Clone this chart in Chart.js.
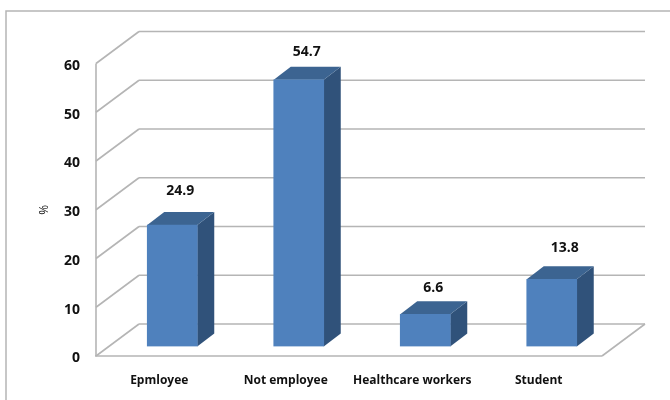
<!DOCTYPE html>
<html>
<head>
<meta charset="utf-8">
<style>
  html, body { margin: 0; padding: 0; background: #fff; overflow: hidden; }
  canvas { display: block; }
</style>
<script src="https://cdn.jsdelivr.net/npm/chart.js@4/dist/chart.umd.min.js"></script>
</head>
<body>
<canvas id="chart1" width="670" height="400"></canvas>
<script>
const categorias = ["Epmloyee", "Not employee", "Healthcare workers", "Student"];
const valores = [24.9, 54.7, 6.6, 13.8];
const ticksY = [0, 10, 20, 30, 40, 50, 60];

// Small nudges of the value labels, in pixels
const ajusteRotuloX = [0, 0, 0, 5];
const ajusteRotuloY = [-4, 2, 4, -1];

// Depth of the 3D box: floor/walls and bars
const PAREDE = { dx: 43, dy: -32 };
const BARRA = { dx: 17, dy: -13, frenteX: 13, frenteY: -9.5 };
const COR_LINHA = "#b5b5b5";
const COR_LATERAL = "#30527a";
const COR_TOPO = "#3c6491";
const COR_TEXTO = "#111";
const FONTE = "'Open Sans', sans-serif";

function linha(ctx, x1, y1, x2, y2) {
  ctx.beginPath();
  ctx.moveTo(x1, y1);
  ctx.lineTo(x2, y2);
  ctx.stroke();
}

function face(ctx, cor, pontos) {
  ctx.fillStyle = cor;
  ctx.beginPath();
  pontos.forEach((p, i) => (i ? ctx.lineTo(p[0], p[1]) : ctx.moveTo(p[0], p[1])));
  ctx.closePath();
  ctx.fill();
}

// Y labels sit a little below their tick position
const rotulosY = {
  id: "rotulosY",
  beforeDraw(chart) {
    const escala = chart.scales.y;
    const original = escala.drawLabels;
    escala.drawLabels = function (area) {
      chart.ctx.save();
      chart.ctx.translate(0, 2.5);
      original.call(this, area);
      chart.ctx.restore();
    };
  },
};

// Outer frame, back wall, left wall and floor
const caixa3d = {
  id: "caixa3d",
  beforeDatasetsDraw(chart) {
    const { ctx, chartArea, scales } = chart;
    const { left, right } = chartArea;
    const base = scales.y.getPixelForValue(0);
    ctx.save();

    ctx.strokeStyle = "#b5b5b5";
    ctx.lineWidth = 1.5;
    ctx.beginPath();
    ctx.moveTo(6, 400);
    ctx.lineTo(6, 11);
    ctx.lineTo(670, 11);
    ctx.stroke();

    ctx.strokeStyle = COR_LINHA;
    ctx.lineWidth = 1.6;
    ticksY.forEach((t) => {
      const y = scales.y.getPixelForValue(t);
      linha(ctx, left, y, left + PAREDE.dx, y + PAREDE.dy);
      linha(ctx, left + PAREDE.dx, y + PAREDE.dy, right + PAREDE.dx, y + PAREDE.dy);
    });
    linha(ctx, left, scales.y.getPixelForValue(60), left, base);
    linha(ctx, left - 1, base, right, base);
    linha(ctx, right, base, right + PAREDE.dx, base + PAREDE.dy);
    ctx.restore();
  },
};

// Side and top faces come from the bar elements, the front face is the library's bar
const barras3d = {
  id: "barras3d",
  beforeDatasetDraw(chart, args) {
    const { ctx } = chart;
    ctx.save();
    ctx.translate(BARRA.frenteX, BARRA.frenteY);
    args.meta.data.forEach((el) => {
      const dir = el.x + el.width / 2;
      const esq = el.x - el.width / 2;
      face(ctx, COR_LATERAL, [
        [dir, el.y],
        [dir + BARRA.dx, el.y + BARRA.dy],
        [dir + BARRA.dx, el.base + BARRA.dy],
        [dir, el.base],
      ]);
      face(ctx, COR_TOPO, [
        [esq, el.y],
        [esq + BARRA.dx, el.y + BARRA.dy],
        [dir + BARRA.dx, el.y + BARRA.dy],
        [dir, el.y],
      ]);
    });
  },
  afterDatasetDraw(chart, args) {
    const { ctx } = chart;
    ctx.restore();
    ctx.save();
    ctx.fillStyle = COR_TEXTO;
    ctx.font = "700 14px " + FONTE;
    ctx.textAlign = "center";
    ctx.textBaseline = "middle";
    args.meta.data.forEach((el, i) => {
      const x = el.x + BARRA.frenteX + 8 + ajusteRotuloX[i];
      const y = el.y + BARRA.frenteY - 30 + ajusteRotuloY[i];
      ctx.fillText(valores[i].toFixed(1), x, y);
    });
    ctx.restore();
  },
};

new Chart(document.getElementById("chart1"), {
  type: "bar",
  data: {
    labels: categorias,
    datasets: [
      {
        label: "",
        data: valores,
        backgroundColor: "#4f81bd",
        barThickness: 50,
      },
    ],
  },
  options: {
    responsive: false,
    animation: false,
    layout: { padding: { top: 63.5, right: 68, left: 0, bottom: 0 } },
    scales: {
      x: {
        grid: { display: false, drawTicks: false },
        border: { display: false },
        afterFit: (escala) => {
          escala.height = 44;
        },
        ticks: {
          autoSkip: false,
          maxRotation: 0,
          padding: 17,
          color: COR_TEXTO,
          font: { family: FONTE, size: 12, weight: "700" },
        },
      },
      y: {
        min: 0,
        max: 60,
        grid: { display: false, drawTicks: false },
        border: { display: false },
        afterFit: (escala) => {
          escala.width = 96;
        },
        afterBuildTicks: (escala) => {
          escala.ticks = ticksY.map((v) => ({ value: v }));
        },
        title: {
          display: true,
          text: "%",
          color: COR_TEXTO,
          padding: { top: 37, bottom: 0 },
          font: { family: FONTE, size: 12, weight: "400" },
        },
        ticks: {
          padding: 16,
          color: COR_TEXTO,
          font: { family: FONTE, size: 14, weight: "700" },
        },
      },
    },
    plugins: {
      legend: { display: false },
      tooltip: { enabled: false },
    },
  },
  plugins: [rotulosY, caixa3d, barras3d],
});
</script>
</body>
</html>
